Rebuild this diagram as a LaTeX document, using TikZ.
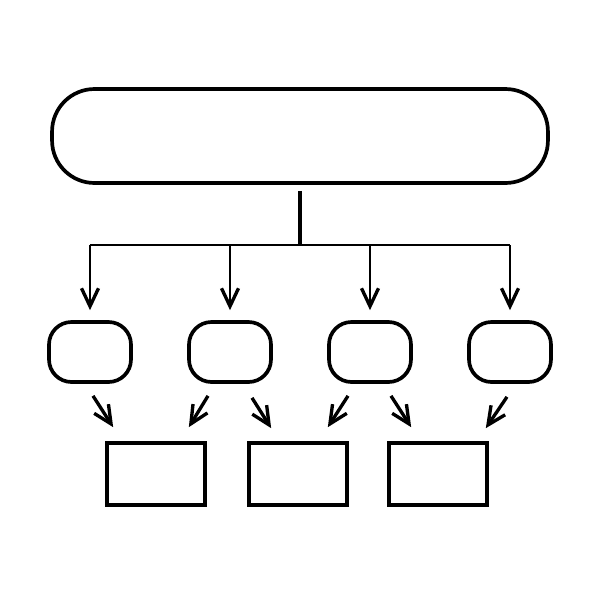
\documentclass[tikz,border=0pt]{standalone}
\usetikzlibrary{arrows.meta,calc}
\begin{document}
\begin{tikzpicture}[x=0.02cm,y=-0.02cm,
  topbox/.style={draw,line width=2.1pt,rounded corners=0.85cm,minimum width=9.92cm,minimum height=1.88cm,inner sep=0pt},
  midbox/.style={draw,line width=2.1pt,rounded corners=0.45cm,minimum width=1.64cm,minimum height=1.2cm,inner sep=0pt},
  recbox/.style={draw,line width=2.1pt,minimum width=1.96cm,minimum height=1.24cm,inner sep=0pt},
  conn/.style={line width=1.4pt},
  arr/.style={line width=1.9pt,-{Straight Barb[length=0.36cm,width=0.34cm,line width=1.9pt]}}]
\useasboundingbox (0,0) rectangle (600,600);
\node[topbox] (top) at (300,136) {};
\node[midbox] (m1) at (90,352) {};
\node[midbox] (m2) at (230,352) {};
\node[midbox] (m3) at (370,352) {};
\node[midbox] (m4) at (510,352) {};
\node[recbox] (r1) at (156,474) {};
\node[recbox] (r2) at (298,474) {};
\node[recbox] (r3) at (438,474) {};
\coordinate (bus) at (300,245);
\draw[conn,line width=2pt] ($(top.south)+(0,6)$) -- (bus);
\draw[conn] (bus -| m1) -- (bus -| m4);
\foreach \m in {m1,m2,m3,m4}{
  \draw[arr,line width=1.6pt] (bus -| \m) -- ($(\m.north)+(0,-10)$);
}
\draw[arr] ($(m1.south)+(3,12)$) -- ($(r1.north west)+(8,-14)$);
\draw[arr] ($(m2.south)+(-22,12)$) -- ($(r1.north east)+(-18,-14)$);
\draw[arr] ($(m2.south)+(22,14)$) -- ($(r2.north west)+(24,-13)$);
\draw[arr] ($(m3.south)+(-22,12)$) -- ($(r2.north east)+(-21,-14)$);
\draw[arr] ($(m3.south)+(21,12)$) -- ($(r3.north west)+(24,-14)$);
\draw[arr] ($(m4.south)+(-3,13)$) -- ($(r3.north east)+(-3,-13)$);
\end{tikzpicture}
\end{document}
